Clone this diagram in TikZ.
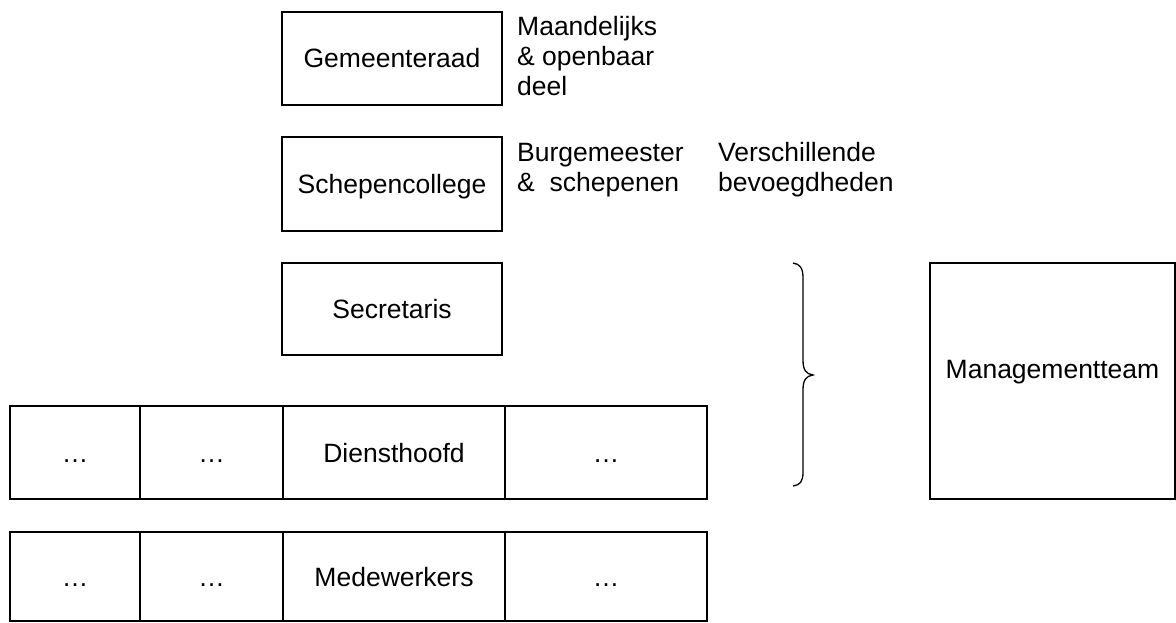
\documentclass[tikz,border=0pt]{standalone}
\usepackage{fontspec}
\setmainfont{Liberation Sans}
\begin{document}
\begin{tikzpicture}[x=1pt,y=-1pt,
  every node/.style={font=\fontsize{26.5}{30}\selectfont, inner sep=0pt},
  box/.style={draw, line width=2pt, text height=19pt, text depth=0pt},
  note/.style={anchor=base west, align=left},
  bracepath/.style={line width=1.3pt}]
\useasboundingbox (0,0) rectangle (1176,623);
% top boxes
\node[box, minimum width=220pt, minimum height=93pt] (gr) at (392,58.5) {Gemeenteraad};
\node[box, minimum width=220pt, minimum height=94pt] (sc) at (392,184) {Schepencollege};
\node[box, minimum width=220pt, minimum height=92pt] (se) at (392,309) {Secretaris};
% side notes
\node[note] (n1) at (517,36) {Maandelijks};
\node[note] (n2) at (517,66) {\& openbaar};
\node[note] (n3) at (517,96) {deel};
\node[note] (n4) at (517,161) {Burgemeester};
\node[note] (n5) at (517,191.5) {\&\ \ schepenen};
\node[note] (n6) at (718,161) {Verschillende};
\node[note] (n7) at (718,191.5) {bevoegdheden};
% Diensthoofd row
\node[box, minimum width=130pt, minimum height=93pt] (d1) at (75,452.5) {…};
\node[box, minimum width=143pt, minimum height=93pt] (d2) at (211.5,452.5) {…};
\node[box, minimum width=222pt, minimum height=93pt] (d3) at (394,452.5) {Diensthoofd};
\node[box, minimum width=202pt, minimum height=93pt] (d4) at (606,452.5) {…};
% Medewerkers row
\node[box, minimum width=130pt, minimum height=89pt] (m1) at (75,576.5) {…};
\node[box, minimum width=143pt, minimum height=89pt] (m2) at (211.5,576.5) {…};
\node[box, minimum width=222pt, minimum height=89pt] (m3) at (394,576.5) {Medewerkers};
\node[box, minimum width=202pt, minimum height=89pt] (m4) at (606,576.5) {…};
% brace
\coordinate (bt) at (793,263);
\coordinate (bm) at (813,375);
\coordinate (bb) at (793,486);
\draw[bracepath] (bt) .. controls (800,264) and (803,268) .. (803,278)
  -- (803,360) .. controls (803,370) and (806,374) .. (bm)
  .. controls (806,376) and (803,380) .. (803,390)
  -- (803,472) .. controls (803,482) and (800,485) .. (bb);
% management team
\node[box, minimum width=245pt, minimum height=236pt] (mt) at (1052.5,381) {};
\node[anchor=base] (mtl) at (1052.5,378) {Managementteam};
\end{tikzpicture}
\end{document}
